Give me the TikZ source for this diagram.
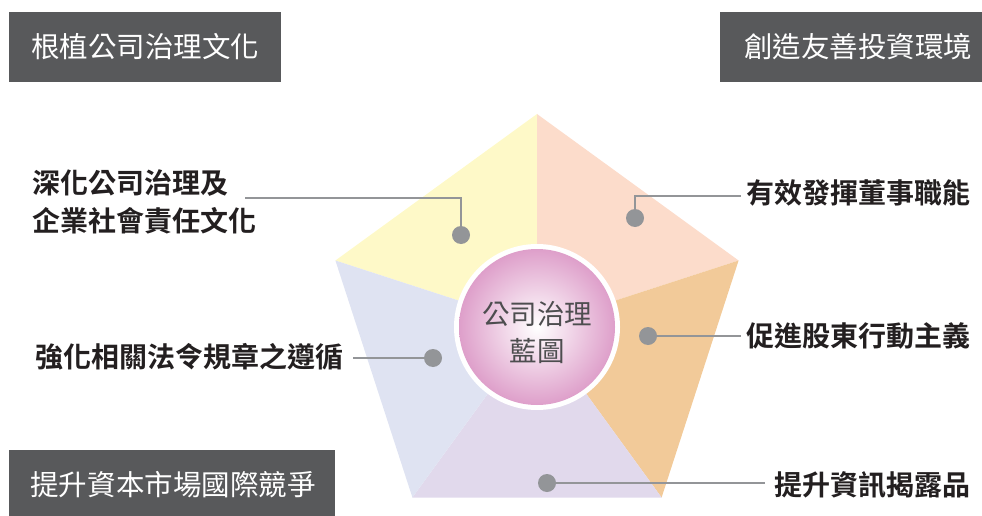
\documentclass[tikz,border=0pt]{standalone}
\usepackage{fontspec}
\newfontfamily\cjk[BoldFont={Noto Sans CJK TC Bold}]{Noto Sans CJK TC}
\definecolor{cyel}{HTML}{FEF9C8}
\definecolor{cpink}{HTML}{FCDCCB}
\definecolor{corange}{HTML}{F2CA99}
\definecolor{cpurple}{HTML}{E1D9EC}
\definecolor{cblue}{HTML}{DFE3F2}
\definecolor{cdot}{HTML}{939598}
\definecolor{cbox}{HTML}{58595B}
\definecolor{ctext}{HTML}{231F20}
\definecolor{cctr}{HTML}{4D4D4F}
\definecolor{cshade}{HTML}{DE9FCA}
\tikzset{
  dot/.style={circle,fill=cdot,minimum size=18pt,inner sep=0pt},
  conn/.style={draw=cdot,line width=2.5pt},
  lbl/.style={font=\cjk\bfseries\fontsize{28}{38}\selectfont,text=ctext,inner sep=0pt},
  boxlbl/.style={font=\cjk\fontsize{28.5}{30}\selectfont,text=white,inner sep=0pt},
  cornerbox/.style={fill=cbox,draw=none},
}
\begin{document}
\begin{tikzpicture}[x=1pt,y=-1pt]
\useasboundingbox (0,0) rectangle (982,516);
% pentagon
\coordinate (C) at (537,326);
\coordinate (T) at (537,114);
\coordinate (UR) at (738.6,260.5);
\coordinate (BR) at (661.6,497.5);
\coordinate (BL) at (412.4,497.5);
\coordinate (UL) at (335.4,260.5);
\fill[cyel] (C) -- (T) -- (UL) -- cycle;
\fill[cpink] (C) -- (T) -- (UR) -- cycle;
\fill[corange] (C) -- (UR) -- (BR) -- cycle;
\fill[cpurple] (C) -- (BR) -- (BL) -- cycle;
\fill[cblue] (C) -- (BL) -- (UL) -- cycle;
% center circle
\fill[white] (537,327) circle (83);
\shade[inner color=white, outer color=cshade] (537,327) circle (78);
\node[font=\cjk\fontsize{27.5}{37}\selectfont,text=cctr,align=center,inner sep=0pt] (ctr) at (537,333) {公司治理\\藍圖};
% corner boxes
\fill[cornerbox] (9,12) rectangle (281,82);
\node[boxlbl] (b1) at (145,47) {根植公司治理文化};
\fill[cornerbox] (720,12) rectangle (982,82);
\node[boxlbl] (b2) at (858,47) {創造友善投資環境};
\fill[cornerbox] (9,450) rectangle (335,516);
\node[boxlbl] (b3) at (173,485) {提升資本市場國際競爭};
% labels
\node[lbl,anchor=west,align=left] (l1) at (32,202) {深化公司治理及\\企業社會責任文化};
\node[lbl,anchor=east] (l4) at (344,357) {強化相關法令規章之遵循};
\node[lbl,anchor=west] (l2) at (746,193) {有效發揮董事職能};
\node[lbl,anchor=west] (l3) at (746,336) {促進股東行動主義};
\node[lbl,anchor=west] (l5) at (774,485) {提升資訊揭露品};
% connector ends
\coordinate (e1) at (245,198);
\coordinate (e2) at (741,196);
\coordinate (e3) at (741,336);
\coordinate (e4) at (353,358);
\coordinate (e5) at (765,483);
% dots
\node[dot] (d1) at (461,235) {};
\node[dot] (d2) at (635,218) {};
\node[dot] (d3) at (648,336) {};
\node[dot] (d4) at (433,358) {};
\node[dot] (d5) at (547,483) {};
\draw[conn] (d1) |- (e1);
\draw[conn] (d2) |- (e2);
\draw[conn] (d3) -- (e3);
\draw[conn] (d4) -- (e4);
\draw[conn] (d5) -- (e5);
\end{tikzpicture}
\end{document}
